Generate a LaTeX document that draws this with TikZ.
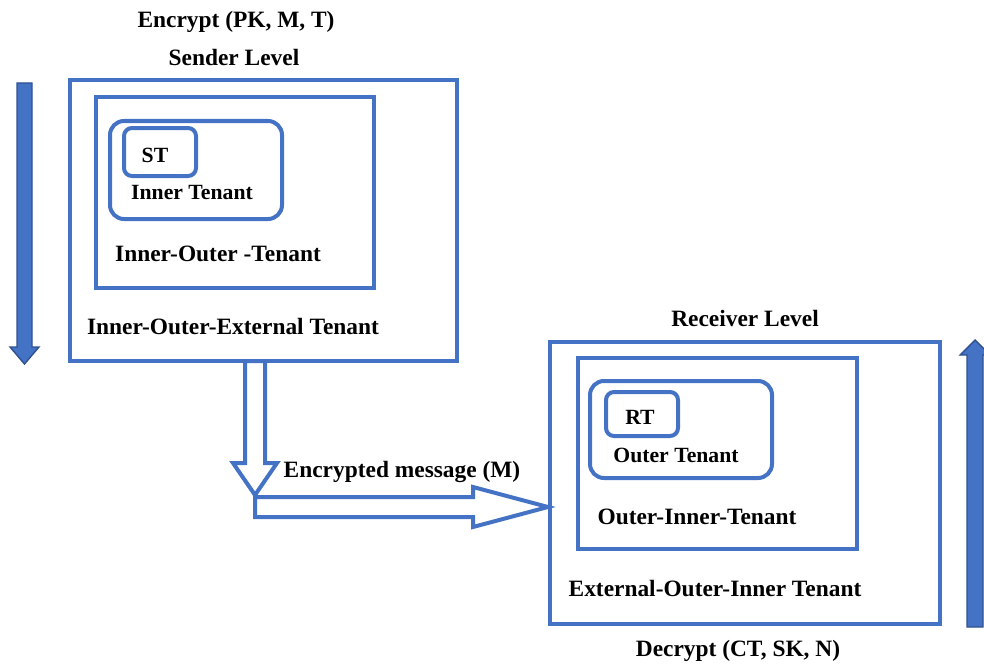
\documentclass[tikz,border=0pt]{standalone}
\usepackage{fontspec}
\setmainfont{Liberation Serif}
\definecolor{boxblue}{HTML}{4472C4}
\definecolor{edgeblue}{HTML}{2F528F}
\begin{document}
\begin{tikzpicture}[x=1pt,y=-1pt,
  frame/.style={draw=boxblue, line width=4pt},
  tenant/.style={draw=boxblue, line width=4pt, rounded corners=14pt},
  tag/.style={draw=boxblue, line width=4pt, rounded corners=8pt},
  lbl/.style={font=\bfseries\fontsize{23.4}{26}\selectfont, inner sep=0pt},
  small/.style={font=\bfseries\fontsize{21.7}{24}\selectfont, inner sep=0pt},
  hollow/.style={draw=boxblue, line width=4pt, fill=white, line join=miter},
  solid/.style={draw=edgeblue, line width=1.4pt, fill=boxblue, line join=miter}]
\useasboundingbox (0,0) rectangle (984,666);

% sender side
\draw[frame] (70,80) rectangle (457,361);
\draw[frame] (96,97) rectangle (374,288);
\draw[tenant] (110,121) rectangle (282,219);
\draw[tag] (124,128) rectangle (196,176);
\node[small] (st) at (155,155) {ST};
\node[small] (inT) at (192,192) {Inner Tenant};
\node[lbl] (ioT) at (218,254) {Inner-Outer -Tenant};
\node[lbl] (ioeT) at (233,327) {Inner-Outer-External Tenant};
\node[lbl] (enc) at (236,22) {Encrypt (PK, M, T)};
\node[lbl] (snd) at (234,57) {Sender Level};

% receiver side
\draw[frame] (550,342) rectangle (940,624);
\draw[frame] (578,358) rectangle (857,549);
\draw[tenant] (590,381) rectangle (772,478);
\draw[tag] (606,392) rectangle (678,436);
\node[small] (rt) at (640,417) {RT};
\node[small] (ouT) at (676,455) {Outer Tenant};
\node[lbl] (oiT) at (697,517) {Outer-Inner-Tenant};
\node[lbl] (eoiT) at (715,589) {External-Outer-Inner Tenant};
\node[lbl] (rcv) at (745,318) {Receiver Level};
\node[lbl] (dec) at (738,651) {Decrypt (CT, SK, N)};

% level direction arrows
\draw[solid] (17,83) -- (32,83) -- (32,347) -- (39,347) -- (24.5,364)
  -- (10,347) -- (17,347) -- cycle;
\begin{scope}
\clip (0,0) rectangle (984,666);
\draw[solid] (967,627) -- (983,627) -- (983,355) -- (990,355) -- (975,340)
  -- (960,355) -- (967,355) -- cycle;
\end{scope}

% message path between the two levels
\draw[hollow] (245,361) -- (265,361) -- (265,463) -- (277,463) -- (255,495)
  -- (233,463) -- (245,463) -- cycle;
\draw[hollow] (255,497) -- (473,497) -- (473,487) -- (548,507) -- (473,527)
  -- (473,517) -- (255,517) -- cycle;
\node[lbl] (msg) at (402,472) {Encrypted message (M)};
\end{tikzpicture}
\end{document}
